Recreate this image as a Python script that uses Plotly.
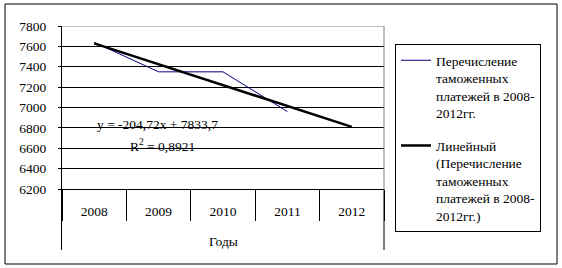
import plotly.graph_objects as go

years = ["2008", "2009", "2010", "2011", "2012"]
payments = [7640, 7350, 7350, 6960, None]
trend_slope = -204.72
trend_intercept = 7833.7
y_ticks = [6200, 6400, 6600, 6800, 7000, 7200, 7400, 7600, 7800]

trend = [trend_intercept + trend_slope * (i + 1) for i in range(len(years))]

W, H = 562, 268
L, R, T, B = 62, 384, 26, 250
pw, ph = R - L, B - T

def px(x):
    return (x - L) / pw

def py(y):
    return (B - y) / ph

ymax = 7800
ymin_vis = 6200
y_axis_px = 189
ymin = ymin_vis - (B - y_axis_px) * (ymax - ymin_vis) / (y_axis_px - T)

serif = "'Times New Roman', 'Liberation Serif', serif"
fs = 13.5

fig = go.Figure()
fig.add_trace(go.Scatter(
    x=years, y=payments, mode="lines",
    line=dict(color="#000080", width=1),
    legendgroup="a",
    name="Перечисление<br>таможенных<br>платежей в 2008-<br>2012гг.",
))
fig.add_trace(go.Scatter(
    x=years, y=trend, mode="lines",
    line=dict(color="black", width=2.5),
    legendgroup="b",
    name="Линейный<br>(Перечисление<br>таможенных<br>платежей в 2008-<br>2012гг.)",
))

fig.update_layout(
    width=W, height=H,
    margin=dict(l=L, r=W - R, t=T, b=H - B),
    paper_bgcolor="white", plot_bgcolor="white",
    font=dict(family=serif, size=fs, color="black"),
    showlegend=True,
    legend=dict(
        x=px(395), y=py(44), xanchor="left", yanchor="top",
        bordercolor="black", borderwidth=1, bgcolor="white",
        font=dict(family=serif, size=fs), valign="top",
        itemwidth=30, tracegroupgap=12, traceorder="grouped",
    ),
    xaxis=dict(
        type="category", anchor="free",
        position=(ymin_vis - ymin) / (ymax - ymin),
        showgrid=False, showline=True, linecolor="black", linewidth=1,
        ticks="outside", tickson="boundaries", ticklen=31,
        tickcolor="black", tickwidth=1,
        ticklabelstandoff=10,
        tickfont=dict(family=serif, size=fs),
        range=[-0.5, 4.5], zeroline=False,
    ),
    yaxis=dict(
        range=[ymin, ymax], tickvals=y_ticks,
        showgrid=True, gridcolor="black", gridwidth=1,
        showline=True, linecolor="black", linewidth=1, mirror=False,
        ticks="outside", ticklen=3, tickcolor="black",
        ticklabelstandoff=9, zeroline=False,
        tickfont=dict(family=serif, size=fs),
    ),
)

# plot-area border: grey above the category axis, black below it
fig.add_shape(type="line", xref="paper", yref="y", x0=0, x1=1, y0=ymax, y1=ymax,
              line=dict(color="#808080", width=1), layer="above")
fig.add_shape(type="line", xref="paper", yref="y", x0=1, x1=1, y0=ymin_vis, y1=ymax,
              line=dict(color="#808080", width=1), layer="above")
fig.add_shape(type="line", xref="paper", yref="y", x0=1, x1=1, y0=ymin, y1=ymin_vis,
              line=dict(color="black", width=1), layer="above")
fig.add_shape(type="rect", xref="paper", yref="paper",
              x0=px(5), x1=px(557), y0=py(264), y1=py(4),
              line=dict(color="black", width=1))

fig.add_annotation(text="y = -204,72x + 7833,7", xref="paper", yref="paper",
                   x=px(95), y=py(124), xanchor="left", yanchor="middle",
                   showarrow=False, font=dict(family=serif, size=fs))
fig.add_annotation(text="R<sup>2</sup> = 0,8921", xref="paper", yref="paper",
                   x=px(128), y=py(145), xanchor="left", yanchor="middle",
                   showarrow=False, font=dict(family=serif, size=fs))
fig.add_annotation(text="Годы", xref="paper", yref="paper",
                   x=0.5, y=py(241), xanchor="center", yanchor="middle",
                   showarrow=False, font=dict(family=serif, size=fs))

fig.write_html("out.html")
